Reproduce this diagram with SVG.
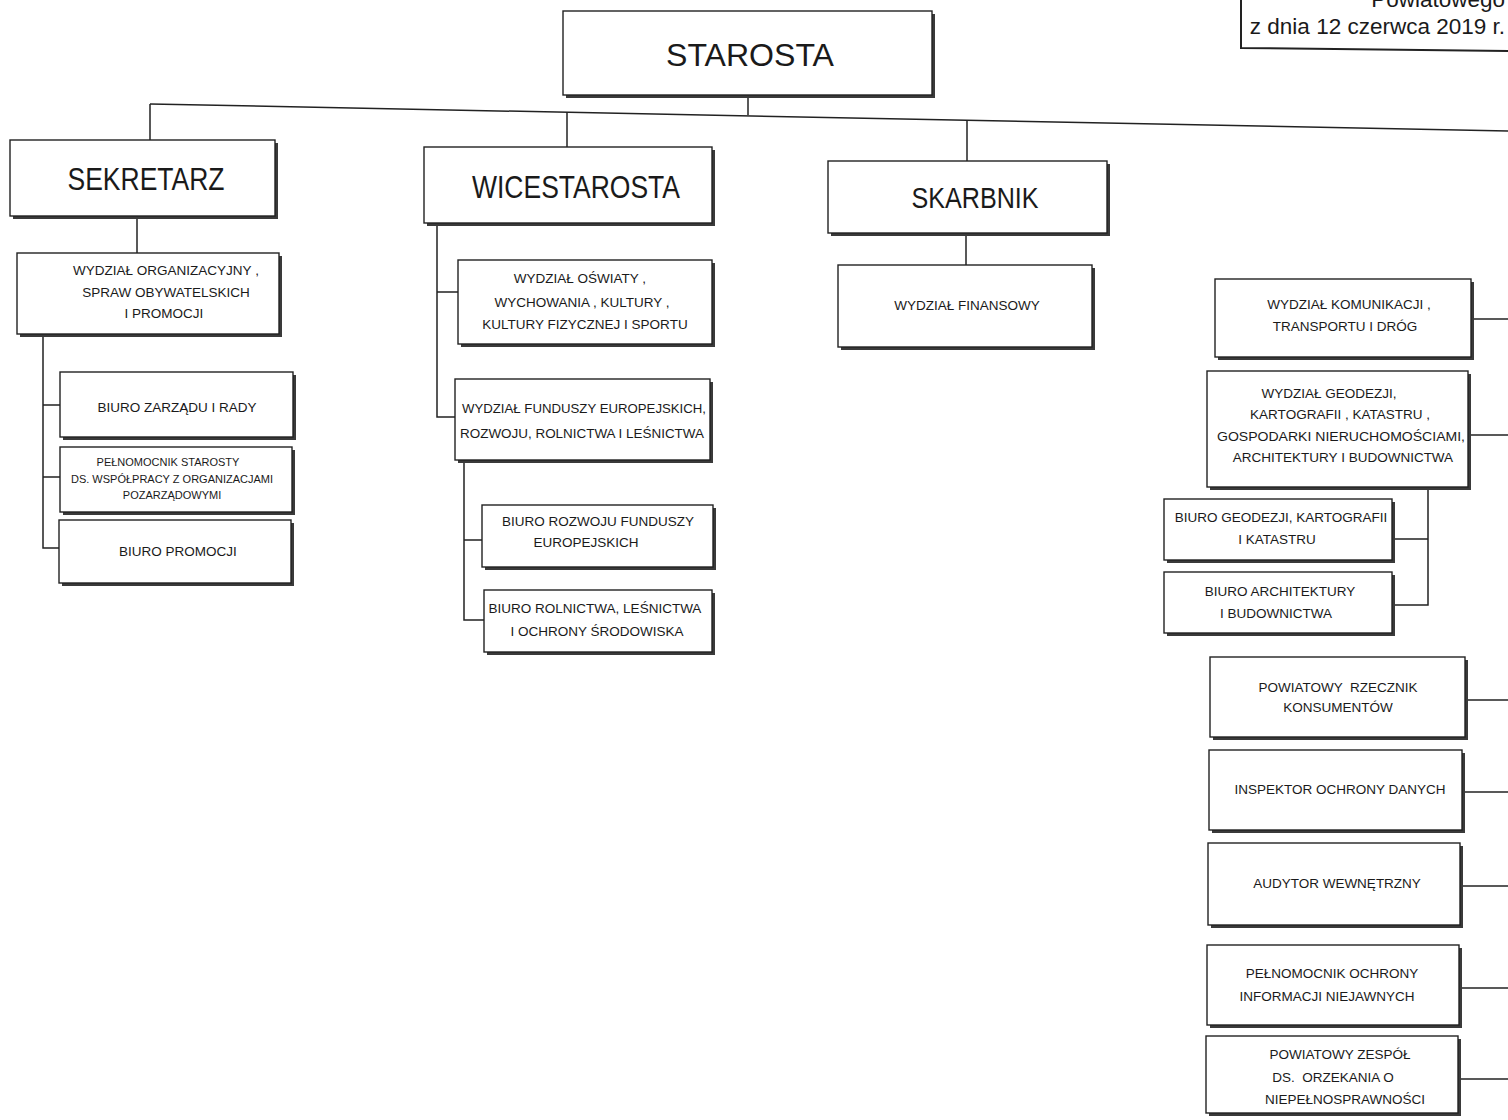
<svg xmlns="http://www.w3.org/2000/svg" width="1508" height="1120" viewBox="0 0 1508 1120">
<style>
  .bg{fill:#ffffff}
  .sh{fill:#3a3a3a}
  .bx{fill:#ffffff;stroke:#222;stroke-width:1.4}
  .ln{fill:none;stroke:#222;stroke-width:1.5}
  .t{font-family:"Liberation Sans",Arial,sans-serif;fill:#1a1a1a;text-anchor:middle}
  .big{font-size:32px}
  .m{font-size:13.5px}
  .s{font-size:11px}
  .hdr{font-family:"Liberation Sans",Arial,sans-serif;fill:#1a1a1a;font-size:22.5px;text-anchor:end}
</style>
<rect class="bg" x="0" y="0" width="1508" height="1120"/>

<g id="header">
  <path class="ln" d="M1241,0 V48 L1508,51" style="stroke-width:2"/>
  <text class="hdr" x="1505" y="7">Powiatowego</text>
  <text class="hdr" x="1505" y="34">z dnia 12 czerwca 2019 r.</text>
</g>

<g id="connectors">
  <path class="ln" d="M150,104 L1508,131"/>
  <path class="ln" d="M748,95 V115"/>
  <path class="ln" d="M150,104 V140"/>
  <path class="ln" d="M567,112 V147"/>
  <path class="ln" d="M967,120 V161"/>
  <path class="ln" d="M137,216 V253"/>
  <path class="ln" d="M43,334 V548 H59 M43,405 H60 M43,477 H60"/>
  <path class="ln" d="M437,223 V417 H455 M437,292 H458"/>
  <path class="ln" d="M464,460 V620 H484 M464,540 H482"/>
  <path class="ln" d="M966,233 V265"/>
  <path class="ln" d="M1471,319 H1508"/>
  <path class="ln" d="M1468,435 H1508"/>
  <path class="ln" d="M1428,487 V605 H1392 M1428,539 H1392"/>
  <path class="ln" d="M1465,700 H1508"/>
  <path class="ln" d="M1462,792 H1508"/>
  <path class="ln" d="M1460,886 H1508"/>
  <path class="ln" d="M1459,988 H1508"/>
  <path class="ln" d="M1458,1079 H1508"/>
</g>

<g id="starosta">
  <rect class="sh" x="566" y="14" width="369" height="84"/>
  <rect class="bx" x="563" y="11" width="369" height="84"/>
  <text class="t" x="750" y="66" font-size="31" textLength="168" lengthAdjust="spacingAndGlyphs">STAROSTA</text>
</g>

<g id="sekretarz">
  <rect class="sh" x="13" y="143" width="265" height="76"/>
  <rect class="bx" x="10" y="140" width="265" height="76"/>
  <text class="t big" x="146" y="190" textLength="157" lengthAdjust="spacingAndGlyphs">SEKRETARZ</text>
</g>

<g id="wicestarosta">
  <rect class="sh" x="427" y="150" width="288" height="76"/>
  <rect class="bx" x="424" y="147" width="288" height="76"/>
  <text class="t big" x="576" y="198" textLength="208" lengthAdjust="spacingAndGlyphs">WICESTAROSTA</text>
</g>

<g id="skarbnik">
  <rect class="sh" x="831" y="164" width="279" height="72"/>
  <rect class="bx" x="828" y="161" width="279" height="72"/>
  <text class="t" x="975" y="208" font-size="29" textLength="127" lengthAdjust="spacingAndGlyphs">SKARBNIK</text>
</g>

<g id="wydzial-organizacyjny">
  <rect class="sh" x="20" y="256" width="262" height="81"/>
  <rect class="bx" x="17" y="253" width="262" height="81"/>
  <text class="t m" x="166" y="275">WYDZIAŁ ORGANIZACYJNY ,</text>
  <text class="t m" x="166" y="297">SPRAW OBYWATELSKICH</text>
  <text class="t m" x="164" y="318">I PROMOCJI</text>
</g>

<g id="biuro-zarzadu">
  <rect class="sh" x="63" y="375" width="233" height="65"/>
  <rect class="bx" x="60" y="372" width="233" height="65"/>
  <text class="t m" x="177" y="412">BIURO ZARZĄDU I RADY</text>
</g>

<g id="pelnomocnik-starosty">
  <rect class="sh" x="63" y="450" width="232" height="65"/>
  <rect class="bx" x="60" y="447" width="232" height="65"/>
  <text class="t s" x="168" y="466">PEŁNOMOCNIK STAROSTY</text>
  <text class="t s" x="172" y="483">DS. WSPÓŁPRACY Z ORGANIZACJAMI</text>
  <text class="t s" x="172" y="499">POZARZĄDOWYMI</text>
</g>

<g id="biuro-promocji">
  <rect class="sh" x="62" y="523" width="232" height="63"/>
  <rect class="bx" x="59" y="520" width="232" height="63"/>
  <text class="t m" x="178" y="556">BIURO PROMOCJI</text>
</g>

<g id="wydzial-oswiaty">
  <rect class="sh" x="461" y="263" width="254" height="84"/>
  <rect class="bx" x="458" y="260" width="254" height="84"/>
  <text class="t m" x="580" y="283">WYDZIAŁ OŚWIATY ,</text>
  <text class="t m" x="582" y="307">WYCHOWANIA , KULTURY ,</text>
  <text class="t m" x="585" y="329">KULTURY FIZYCZNEJ I SPORTU</text>
</g>

<g id="wydzial-funduszy">
  <rect class="sh" x="458" y="382" width="255" height="81"/>
  <rect class="bx" x="455" y="379" width="255" height="81"/>
  <text class="t m" x="584" y="413" textLength="244" lengthAdjust="spacingAndGlyphs">WYDZIAŁ FUNDUSZY EUROPEJSKICH,</text>
  <text class="t m" x="582" y="438" textLength="244" lengthAdjust="spacingAndGlyphs">ROZWOJU, ROLNICTWA I LEŚNICTWA</text>
</g>

<g id="biuro-rozwoju">
  <rect class="sh" x="485" y="508" width="231" height="62"/>
  <rect class="bx" x="482" y="505" width="231" height="62"/>
  <text class="t m" x="598" y="526">BIURO ROZWOJU FUNDUSZY</text>
  <text class="t m" x="586" y="547">EUROPEJSKICH</text>
</g>

<g id="biuro-rolnictwa">
  <rect class="sh" x="487" y="593" width="228" height="62"/>
  <rect class="bx" x="484" y="590" width="228" height="62"/>
  <text class="t m" x="595" y="613">BIURO ROLNICTWA, LEŚNICTWA</text>
  <text class="t m" x="597" y="636">I OCHRONY ŚRODOWISKA</text>
</g>

<g id="wydzial-finansowy">
  <rect class="sh" x="841" y="268" width="254" height="82"/>
  <rect class="bx" x="838" y="265" width="254" height="82"/>
  <text class="t m" x="967" y="310">WYDZIAŁ FINANSOWY</text>
</g>

<g id="wydzial-komunikacji">
  <rect class="sh" x="1218" y="282" width="256" height="78"/>
  <rect class="bx" x="1215" y="279" width="256" height="78"/>
  <text class="t m" x="1349" y="309">WYDZIAŁ KOMUNIKACJI ,</text>
  <text class="t m" x="1345" y="331">TRANSPORTU I DRÓG</text>
</g>

<g id="wydzial-geodezji">
  <rect class="sh" x="1210" y="374" width="261" height="116"/>
  <rect class="bx" x="1207" y="371" width="261" height="116"/>
  <text class="t m" x="1329" y="398">WYDZIAŁ GEODEZJI,</text>
  <text class="t m" x="1340" y="419">KARTOGRAFII , KATASTRU ,</text>
  <text class="t m" x="1341" y="441" textLength="248" lengthAdjust="spacingAndGlyphs">GOSPODARKI NIERUCHOMOŚCIAMI,</text>
  <text class="t m" x="1343" y="462">ARCHITEKTURY I BUDOWNICTWA</text>
</g>

<g id="biuro-geodezji">
  <rect class="sh" x="1167" y="502" width="228" height="61"/>
  <rect class="bx" x="1164" y="499" width="228" height="61"/>
  <text class="t m" x="1281" y="522">BIURO GEODEZJI, KARTOGRAFII</text>
  <text class="t m" x="1277" y="544">I KATASTRU</text>
</g>

<g id="biuro-architektury">
  <rect class="sh" x="1167" y="575" width="228" height="61"/>
  <rect class="bx" x="1164" y="572" width="228" height="61"/>
  <text class="t m" x="1280" y="596">BIURO ARCHITEKTURY</text>
  <text class="t m" x="1276" y="618">I BUDOWNICTWA</text>
</g>

<g id="rzecznik-konsumentow">
  <rect class="sh" x="1213" y="660" width="255" height="80"/>
  <rect class="bx" x="1210" y="657" width="255" height="80"/>
  <text class="t m" x="1338" y="692" xml:space="preserve">POWIATOWY  RZECZNIK</text>
  <text class="t m" x="1338" y="712">KONSUMENTÓW</text>
</g>

<g id="inspektor-ochrony-danych">
  <rect class="sh" x="1212" y="753" width="253" height="80"/>
  <rect class="bx" x="1209" y="750" width="253" height="80"/>
  <text class="t m" x="1340" y="794">INSPEKTOR OCHRONY DANYCH</text>
</g>

<g id="audytor">
  <rect class="sh" x="1211" y="846" width="252" height="82"/>
  <rect class="bx" x="1208" y="843" width="252" height="82"/>
  <text class="t m" x="1337" y="888">AUDYTOR WEWNĘTRZNY</text>
</g>

<g id="pelnomocnik-ochrony">
  <rect class="sh" x="1210" y="948" width="252" height="80"/>
  <rect class="bx" x="1207" y="945" width="252" height="80"/>
  <text class="t m" x="1332" y="978">PEŁNOMOCNIK OCHRONY</text>
  <text class="t m" x="1327" y="1001">INFORMACJI NIEJAWNYCH</text>
</g>

<g id="zespol-orzekania">
  <rect class="sh" x="1209" y="1039" width="252" height="77"/>
  <rect class="bx" x="1206" y="1036" width="252" height="77"/>
  <text class="t m" x="1340" y="1059">POWIATOWY ZESPÓŁ</text>
  <text class="t m" x="1333" y="1082" xml:space="preserve">DS.  ORZEKANIA O</text>
  <text class="t m" x="1345" y="1104">NIEPEŁNOSPRAWNOŚCI</text>
</g>
</svg>
